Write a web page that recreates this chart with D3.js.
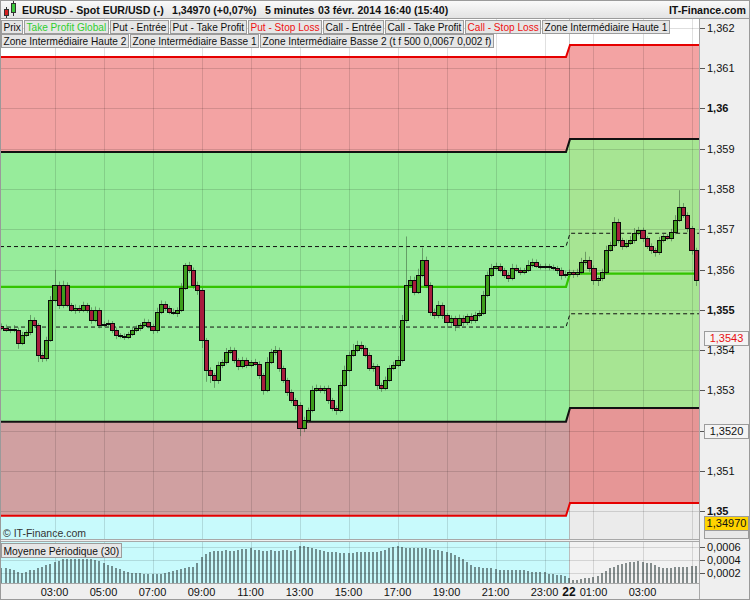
<!DOCTYPE html>
<html><head><meta charset="utf-8">
<script src="https://cdn.jsdelivr.net/npm/d3@7"></script>
<style>body{margin:0;background:#fff}svg{display:block;font-family:"Liberation Sans",Arial,sans-serif}</style>
</head><body><svg id="c" width="750" height="600"></svg>
<script>
// ---------------- DATA ----------------
const firstOpen = 1.35460;
const closes = [
1.35455,1.35450,1.35452,1.35450,1.35418,1.35437,1.35445,1.35475,1.35462,1.35388,
1.35380,1.35425,1.35524,1.35562,1.35512,1.35562,1.35512,1.35500,1.35505,1.35500,
1.35512,1.35500,1.35475,1.35500,1.35462,1.35465,1.35467,1.35450,1.35437,1.35435,
1.35433,1.35440,1.35450,1.35455,1.35462,1.35470,1.35460,1.35450,1.35495,1.35515,
1.35505,1.35495,1.35492,1.35500,1.35554,1.35611,1.35599,1.35562,1.35549,1.35425,
1.35351,1.35338,1.35326,1.35363,1.35370,1.35395,1.35400,1.35375,1.35360,1.35375,
1.35363,1.35370,1.35366,1.35338,1.35301,1.35370,1.35395,1.35400,1.35356,1.35326,
1.35296,1.35276,1.35264,1.35206,1.35226,1.35251,1.35301,1.35306,1.35301,1.35306,
1.35276,1.35256,1.35251,1.35313,1.35351,1.35388,1.35400,1.35413,1.35405,1.35388,
1.35356,1.35360,1.35313,1.35306,1.35326,1.35356,1.35363,1.35375,1.35475,1.35562,
1.35574,1.35544,1.35587,1.35624,1.35562,1.35495,1.35487,1.35512,1.35487,1.35470,
1.35480,1.35462,1.35480,1.35470,1.35485,1.35475,1.35487,1.35492,1.35537,1.35587,
1.35604,1.35609,1.35599,1.35587,1.35579,1.35604,1.35599,1.35594,1.35599,1.35611,
1.35619,1.35609,1.35606,1.35609,1.35606,1.35604,1.35599,1.35587,1.35589,1.35594,
1.35589,1.35594,1.35619,1.35624,1.35604,1.35574,1.35579,1.35594,1.35649,1.35661,
1.35718,1.35673,1.35659,1.35666,1.35673,1.35691,1.35698,1.35678,1.35659,1.35649,
1.35644,1.35673,1.35683,1.35678,1.35693,1.35723,1.35755,1.35736,1.35703,1.35649,
1.35574];
// wick extents beyond the body, in pips
const wickHi = [
0.6,0.8,0.5,1.0,0.6,0.8,0.5,1.2,0.6,0.5, 0.6,0.8,1.0,3.7,0.8,1.0,0.6,0.5,0.8,0.6,
0.8,0.5,0.6,0.8,0.5,0.6,0.8,0.5,0.6,0.5, 0.6,0.5,0.8,0.6,0.5,0.8,0.6,0.5,1.0,0.8,
0.6,0.5,0.8,0.6,1.2,0.5,0.8,0.6,0.8,0.5, 0.5,0.6,0.5,0.8,0.6,1.0,0.8,0.6,0.5,0.8,
0.6,0.5,0.8,0.6,0.5,1.2,0.8,1.0,0.6,0.5, 0.5,0.6,0.5,0.6,0.8,0.6,1.0,0.8,0.6,0.5,
0.6,0.5,0.6,0.8,1.0,0.8,1.5,1.0,0.8,0.6, 0.6,0.8,0.5,0.6,0.8,0.6,0.8,1.0,1.2,12.0,
1.0,0.8,1.5,3.0,0.8,0.6,0.8,1.0,0.6,0.5, 0.6,0.5,0.8,0.6,0.5,0.6,0.8,0.6,1.0,0.8,
1.0,0.8,0.6,0.5,0.6,1.0,0.8,0.6,0.5,1.2, 0.8,0.6,0.5,0.6,0.5,0.6,0.5,0.6,0.8,0.6,
0.5,0.8,1.0,2.0,0.8,0.6,0.5,0.8,1.0,0.8, 1.2,0.8,0.6,0.8,1.0,1.2,0.8,0.6,0.5,0.6,
0.5,0.8,0.6,0.5,0.8,1.2,4.2,1.0,0.6,0.5, 0.5];
const wickLo = [
0.6,0.5,0.8,0.6,1.5,0.6,0.5,0.8,0.6,1.8, 1.0,0.8,0.5,0.6,1.0,0.8,0.6,0.5,1.0,0.8,
0.6,0.8,1.0,0.6,0.8,0.5,0.6,0.8,1.0,0.6, 0.8,0.6,0.5,0.6,0.8,0.5,0.6,1.0,0.8,0.6,
0.8,0.6,0.5,1.0,0.6,0.5,0.8,1.0,1.2,2.0, 3.0,2.0,2.0,1.0,0.8,0.6,0.5,0.8,1.0,0.6,
0.8,0.6,0.5,1.0,1.2,0.6,0.5,0.8,1.0,0.8, 1.0,0.8,1.2,2.0,1.0,0.8,0.6,0.5,0.8,1.0,
1.0,0.8,1.2,0.6,0.5,0.6,0.5,0.6,0.8,0.6, 0.8,1.0,1.2,1.0,0.6,0.5,0.6,0.5,0.6,0.8,
0.6,0.8,0.5,0.6,0.8,1.0,1.0,0.8,1.0,1.5, 1.0,1.5,0.8,1.0,0.8,1.0,0.8,0.6,0.5,0.6,
0.6,0.5,0.6,0.8,1.0,0.6,0.5,0.8,0.6,0.5, 0.6,0.5,0.6,0.5,0.8,0.6,1.0,1.2,0.8,0.6,
1.0,0.8,0.6,0.8,1.0,1.2,1.5,0.8,0.6,0.5, 0.6,0.8,1.0,0.6,0.5,0.8,0.6,1.0,0.8,1.0,
1.2,0.8,0.6,0.5,0.8,0.6,0.5,0.8,1.0,1.2, 1.5];
const periodMean = [
0.00028,0.00027,0.00026,0.00024,0.00021,0.00020,0.00022,0.00024,0.00025,0.00028,
0.00030,0.00032,0.00034,0.00037,0.00039,0.00041,0.00042,0.00042,0.00042,0.00042,
0.00042,0.00042,0.00041,0.00040,0.00038,0.00036,0.00033,0.00031,0.00028,0.00026,
0.00023,0.00021,0.00020,0.00020,0.00020,0.00019,0.00018,0.00018,0.00018,0.00019,
0.00020,0.00022,0.00023,0.00025,0.00026,0.00028,0.00029,0.00030,0.00036,0.00045,
0.00050,0.00052,0.00054,0.00054,0.00054,0.00055,0.00054,0.00054,0.00055,0.00057,
0.00057,0.00058,0.00056,0.00055,0.00054,0.00054,0.00055,0.00054,0.00054,0.00055,
0.00055,0.00054,0.00056,0.00061,0.00062,0.00060,0.00058,0.00057,0.00055,0.00054,
0.00053,0.00052,0.00052,0.00051,0.00051,0.00051,0.00051,0.00052,0.00052,0.00052,
0.00052,0.00052,0.00052,0.00054,0.00056,0.00059,0.00060,0.00061,0.00060,0.00059,
0.00059,0.00058,0.00058,0.00058,0.00058,0.00057,0.00056,0.00055,0.00054,0.00053,
0.00051,0.00048,0.00044,0.00041,0.00037,0.00033,0.00030,0.00029,0.00028,0.00028,
0.00027,0.00026,0.00025,0.00025,0.00025,0.00025,0.00024,0.00024,0.00024,0.00023,
0.00022,0.00022,0.00022,0.00021,0.00019,0.00018,0.00017,0.00017,0.00016,0.00012,
0.00010,0.00010,0.00011,0.00012,0.00013,0.00014,0.00015,0.00020,0.00023,0.00027,
0.00029,0.00032,0.00034,0.00036,0.00037,0.00037,0.00038,0.00037,0.00036,0.00035,
0.00033,0.00030,0.00028,0.00027,0.00028,0.00029,0.00029,0.00030,0.00030,0.00031,
0.00031];
// zone levels: stop high, take-profit high, zone high, middle, zone low, take-profit low, stop low
const levelsDay1 = [1.36128,1.35892,1.35657,1.35557,1.35457,1.35222,1.34988];
const levelsDay2 = [1.36158,1.35924,1.35690,1.35590,1.35490,1.35256,1.35020];
const priceTicks = [1.362,1.361,1.360,1.359,1.358,1.357,1.356,1.355,1.354,1.353,1.352,1.351,1.350];
const priceTickLabels = ["1,362","1,361","1,36","1,359","1,358","1,357","1,356","1,355","1,354","1,353","","1,351","1,35"];
const majorTicks = [1.360,1.355,1.350];
const meanTicks = [0.0006,0.0004,0.0002];
const meanTickLabels = ["0,0006","0,0004","0,0002"];
const markerValues = [1.3543,1.3520,1.3497];
const markerLabels = ["1,3543","1,3520","1,34970"];
const legendRow1 = ["Prix","Take Profit Global","Put - Entrée","Put - Take Profit","Put - Stop Loss","Call - Entrée","Call - Take Profit","Call - Stop Loss","Zone Intermédiaire Haute 1"];
const legendRow2 = ["Zone Intermédiaire Haute 2","Zone Intermédiaire Basse 1","Zone Intermédiaire Basse 2 (t f 500 0,0067 0,002 f)"];
const titleParts = ["EURUSD - Spot EUR/USD (-)","1,34970 (+0,07%)","5 minutes","03 févr. 2014 16:40 (15:40)"];
const gridHourOffsets = [0,2,4,6,8,10,12,14,16,18,20,21,22,24,26]; // hours after 03:00 of day 1

// ---------------- LAYOUT ----------------
const svg = d3.select("#c");
const W = 750, H = 600;
const P = {l:0, r:699, t:19, b:540, vt:542, vb:583};
const t0 = new Date(2014,1,21,0,50), stepMin = 10;
const dayBreak = new Date(2014,1,22,0,0);
const firstTick = new Date(2014,1,21,3,0);
const x = d3.scaleTime().domain([firstTick, new Date(2014,1,22,3)]).range([54.5,642.5]);
const y = d3.scaleLinear().domain([1.35,1.362]).range([511,28]);
const yv = d3.scaleLinear().domain([0,0.0006]).range([586,547]);
const xb = x(dayBreak);

svg.append("rect").attr("width",W).attr("height",H).attr("fill","#efefef");

const defs = svg.append("defs");
defs.append("clipPath").attr("id","plotClip").append("rect").attr("x",P.l+1).attr("y",P.t).attr("width",P.r-P.l-1).attr("height",P.b-P.t);
defs.append("clipPath").attr("id","volClip").append("rect").attr("x",P.l+1).attr("y",P.vt).attr("width",P.r-P.l-1).attr("height",P.vb-P.vt);
const hg = defs.append("linearGradient").attr("id","hdr").attr("x1",0).attr("x2",0).attr("y1",0).attr("y2",1);
hg.append("stop").attr("offset","0").attr("stop-color","#fbfbfb");
hg.append("stop").attr("offset","1").attr("stop-color","#e2e2e2");

// ---------------- MAIN PLOT BACKGROUNDS ----------------
const plot = svg.append("g").attr("clip-path","url(#plotClip)");
plot.append("rect").attr("x",P.l).attr("y",P.t).attr("width",P.r-P.l).attr("height",P.b-P.t).attr("fill","#ffffff");
plot.append("rect").attr("x",P.l).attr("y",y(levelsDay1[1])).attr("width",xb-P.l).attr("height",P.b-y(levelsDay1[1])).attr("fill","#c8fafc");
plot.append("rect").attr("x",xb).attr("y",y(levelsDay2[1])).attr("width",P.r-xb).attr("height",P.b-y(levelsDay2[1])).attr("fill","#ebebeb");

function stepPts(k){
  return [[P.l, levelsDay1[k]],[xb-3, levelsDay1[k]],[xb+1, levelsDay2[k]],[P.r, levelsDay2[k]]];
}
function bandPts(a,b){
  const A = stepPts(a), B = stepPts(b);
  return A.map((p,i)=>({x:p[0], y0:y(B[i][1]), y1:y(p[1])}));
}
const area = d3.area().x(d=>d.x).y0(d=>d.y0).y1(d=>d.y1);
const zoneFills = [[0,1,"rgba(222,0,0,0.36)"],[1,5,"rgba(111,224,75,0.55)"],[5,6,"rgba(222,0,0,0.36)"]];
zoneFills.forEach(z=>{
  plot.append("path").attr("d",area(bandPts(z[0],z[1]))).attr("fill",z[2]);
});

// grid
const gridTimes = gridHourOffsets.map(h=>d3.timeHour.offset(firstTick,h));
plot.selectAll(".hg").data(priceTicks).join("line")
  .attr("x1",P.l).attr("x2",P.r).attr("y1",d=>Math.round(y(d))+0.5).attr("y2",d=>Math.round(y(d))+0.5)
  .attr("stroke","rgba(0,0,0,0.13)");
plot.selectAll(".vg").data(gridTimes).join("line")
  .attr("x1",d=>Math.round(x(d))+0.5).attr("x2",d=>Math.round(x(d))+0.5).attr("y1",P.t).attr("y2",P.b)
  .attr("stroke",d=>+d===+dayBreak?"rgba(0,0,0,0.22)":"rgba(0,0,0,0.12)");

// level lines
const line = d3.line().x(d=>d[0]).y(d=>y(d[1]));
const lineStyles = [
  {k:0,stroke:"#e60000",w:2,dash:null},
  {k:6,stroke:"#e60000",w:2,dash:null},
  {k:1,stroke:"#111",w:2,dash:null},
  {k:5,stroke:"#111",w:2,dash:null},
  {k:2,stroke:"#111",w:1,dash:"4,3"},
  {k:4,stroke:"#111",w:1,dash:"4,3"},
  {k:3,stroke:"#33c400",w:2.2,dash:null}
];
lineStyles.forEach(s=>{
  plot.append("path").attr("d",line(stepPts(s.k))).attr("fill","none")
    .attr("stroke",s.stroke).attr("stroke-width",s.w).attr("stroke-dasharray",s.dash);
});

// candles
const candles = closes.map((c,i)=>{
  const o = i ? closes[i-1] : firstOpen;
  return {t:d3.timeMinute.offset(t0,i*stepMin), o, c,
    h:Math.max(o,c)+wickHi[i]*1e-4, l:Math.min(o,c)-wickLo[i]*1e-4};
});
const bw = x(d3.timeMinute.offset(t0,stepMin)) - x(t0);
const cg = plot.append("g");
cg.selectAll(".wk").data(candles).join("line")
  .attr("x1",d=>Math.round(x(d.t))+0.5).attr("x2",d=>Math.round(x(d.t))+0.5)
  .attr("y1",d=>y(d.h)).attr("y2",d=>y(d.l))
  .attr("stroke","#3d5e3d").attr("stroke-opacity",0.55).attr("stroke-width",1);
cg.selectAll(".bd").data(candles).join("rect")
  .attr("x",d=>Math.round(x(d.t)-bw/2)+0.5)
  .attr("width",d=>Math.round(x(d.t)+bw/2)-Math.round(x(d.t)-bw/2))
  .attr("y",d=>Math.round(y(Math.max(d.o,d.c)))+0.5)
  .attr("height",d=>Math.max(0.01,Math.round(y(Math.min(d.o,d.c)))-Math.round(y(Math.max(d.o,d.c)))))
  .attr("fill",d=>d.c>=d.o?"#3e9e1c":"#a81d3e")
  .attr("stroke","#0a0a0a").attr("stroke-width",1);

// copyright
svg.append("text").attr("x",3).attr("y",537).attr("font-size",10.5).attr("fill","#333").text("© IT-Finance.com");

// ---------------- LEGEND ----------------
const legendColors = {"Take Profit Global":"#2fcf2f","Put - Stop Loss":"#ee1111","Call - Stop Loss":"#ee1111"};
function legendRow(items, yTop){
  let cx = 1.5;
  items.forEach(s=>{
    const g = svg.append("g");
    const r = g.append("rect").attr("y",yTop+0.5).attr("height",13).attr("fill","#e6e6e6").attr("stroke","#9c9c9c");
    const t = g.append("text").attr("y",yTop+11).attr("font-size",10.1).attr("fill",legendColors[s]||"#111").text(s);
    const w = t.node().getComputedTextLength();
    r.attr("x",cx).attr("width",Math.round(w+4));
    t.attr("x",cx+2);
    cx += Math.round(w+4)+2;
  });
}
legendRow(legendRow1, 20);
legendRow(legendRow2, 34);

// ---------------- LOWER PANEL ----------------
const vp = svg.append("g").attr("clip-path","url(#volClip)");
vp.append("rect").attr("x",P.l).attr("y",P.vt).attr("width",xb-P.l).attr("height",P.vb-P.vt).attr("fill","#c8fafc");
vp.append("rect").attr("x",xb).attr("y",P.vt).attr("width",P.r-xb).attr("height",P.vb-P.vt).attr("fill","#f2f2f2");
vp.selectAll(".vhg").data(meanTicks).join("line")
  .attr("x1",P.l).attr("x2",P.r).attr("y1",d=>Math.round(yv(d))+0.5).attr("y2",d=>Math.round(yv(d))+0.5)
  .attr("stroke","rgba(0,0,0,0.12)");
vp.selectAll(".vvg").data(gridTimes).join("line")
  .attr("x1",d=>Math.round(x(d))+0.5).attr("x2",d=>Math.round(x(d))+0.5).attr("y1",P.vt).attr("y2",P.vb)
  .attr("stroke",d=>+d===+dayBreak?"rgba(0,0,0,0.22)":"rgba(0,0,0,0.12)");
vp.selectAll(".bar").data(periodMean).join("rect")
  .attr("x",(d,i)=>Math.round(x(d3.timeMinute.offset(t0,i*stepMin))-1))
  .attr("width",2)
  .attr("y",d=>Math.round(yv(d)))
  .attr("height",d=>P.vb-Math.round(yv(d)))
  .attr("fill","rgba(40,55,55,0.55)");
const lg = svg.append("g");
const lr = lg.append("rect").attr("x",1.5).attr("y",543.5).attr("height",14).attr("fill","#e6e6e6").attr("stroke","#9c9c9c");
const lt = lg.append("text").attr("x",3.5).attr("y",554.5).attr("font-size",10.3).attr("fill","#111").text("Moyenne Périodique (30)");
lr.attr("width",Math.round(lt.node().getComputedTextLength()+4));

// separators
[539.5,541.5,583.5].forEach(v=>svg.append("line").attr("x1",0).attr("x2",P.r).attr("y1",v).attr("y2",v).attr("stroke","#a8a8a8"));
svg.append("line").attr("x1",P.r+0.5).attr("x2",P.r+0.5).attr("y1",P.t).attr("y2",H).attr("stroke","#a8a8a8");

// ---------------- AXES ----------------
const pa = svg.append("g");
priceTicks.forEach((v,i)=>{
  const yy = Math.round(y(v))+0.5;
  pa.append("line").attr("x1",P.r+1).attr("x2",P.r+6).attr("y1",yy).attr("y2",yy).attr("stroke","#555");
  if(priceTickLabels[i]) pa.append("text").attr("x",P.r+8).attr("y",yy).attr("dy","0.35em")
    .attr("font-size",11).attr("font-weight",majorTicks.includes(v)?"bold":"normal").attr("fill","#111").text(priceTickLabels[i]);
});
meanTicks.forEach((v,i)=>{
  const yy = Math.round(yv(v))+0.5;
  pa.append("line").attr("x1",P.r+1).attr("x2",P.r+6).attr("y1",yy).attr("y2",yy).attr("stroke","#555");
  pa.append("text").attr("x",P.r+8).attr("y",yy).attr("dy","0.35em").attr("font-size",11).attr("fill","#111").text(meanTickLabels[i]);
});
const markerStyles = [{fill:"#f4f4f4",text:"#e81010"},{fill:"#f4f4f4",text:"#111"},{fill:"#ffd400",text:"#111"}];
markerValues.forEach((v,i)=>{
  const yy = Math.round(y(v));
  const st = markerStyles[i];
  if(i===2) pa.append("rect").attr("x",P.r+5.5).attr("y",yy+4.5).attr("width",44).attr("height",11).attr("fill","#e8e8e8").attr("stroke","#9c9c9c");
  pa.append("rect").attr("x",P.r+5.5).attr("y",yy-6.5).attr("width",44).attr("height",14).attr("fill",st.fill).attr("stroke","#9c9c9c");
  pa.append("text").attr("x",P.r+27.5).attr("y",yy+0.5).attr("dy","0.35em").attr("text-anchor","middle")
    .attr("font-size",11).attr("fill",st.text).text(markerLabels[i]);
});
const ta = svg.append("g");
gridTimes.forEach(d=>{
  const xx = x(d);
  if(xx+14 > P.r) return;
  const isDay = +d===+dayBreak;
  ta.append("text").attr("x",xx).attr("y",596).attr("text-anchor","middle")
    .attr("font-size",isDay?12:11).attr("font-weight",isDay?"bold":"normal").attr("fill","#111")
    .text(isDay?d3.timeFormat("%-d")(d):d3.timeFormat("%H:%M")(d));
});

// ---------------- HEADER ----------------
svg.append("rect").attr("x",0).attr("y",0).attr("width",W).attr("height",19).attr("fill","url(#hdr)");
svg.append("line").attr("x1",0).attr("x2",W).attr("y1",18.5).attr("y2",18.5).attr("stroke","#9c9c9c");
const ic = svg.append("g");
ic.append("line").attr("x1",6.5).attr("x2",6.5).attr("y1",7).attr("y2",18).attr("stroke","#333");
ic.append("rect").attr("x",4.5).attr("y",9.5).attr("width",4).attr("height",6).attr("fill","#d42020").attr("stroke","#333");
ic.append("line").attr("x1",13.5).attr("x2",13.5).attr("y1",1).attr("y2",16).attr("stroke","#333");
ic.append("rect").attr("x",11.5).attr("y",3.5).attr("width",4).attr("height",9).attr("fill","#3cc83c").attr("stroke","#333");
const titleX = [22,172,265,318];
titleParts.forEach((s,i)=>svg.append("text").attr("x",titleX[i]).attr("y",13.5).attr("font-size",10.6)
  .attr("font-weight","bold").attr("fill","#111").text(s));
svg.append("text").attr("x",746).attr("y",13.5).attr("text-anchor","end").attr("font-size",10.6)
  .attr("font-weight","bold").attr("fill","#111").text("IT-Finance.com");

svg.append("rect").attr("x",0.5).attr("y",0.5).attr("width",W-1).attr("height",H-1).attr("fill","none").attr("stroke","#9a9a9a");
</script></body></html>
